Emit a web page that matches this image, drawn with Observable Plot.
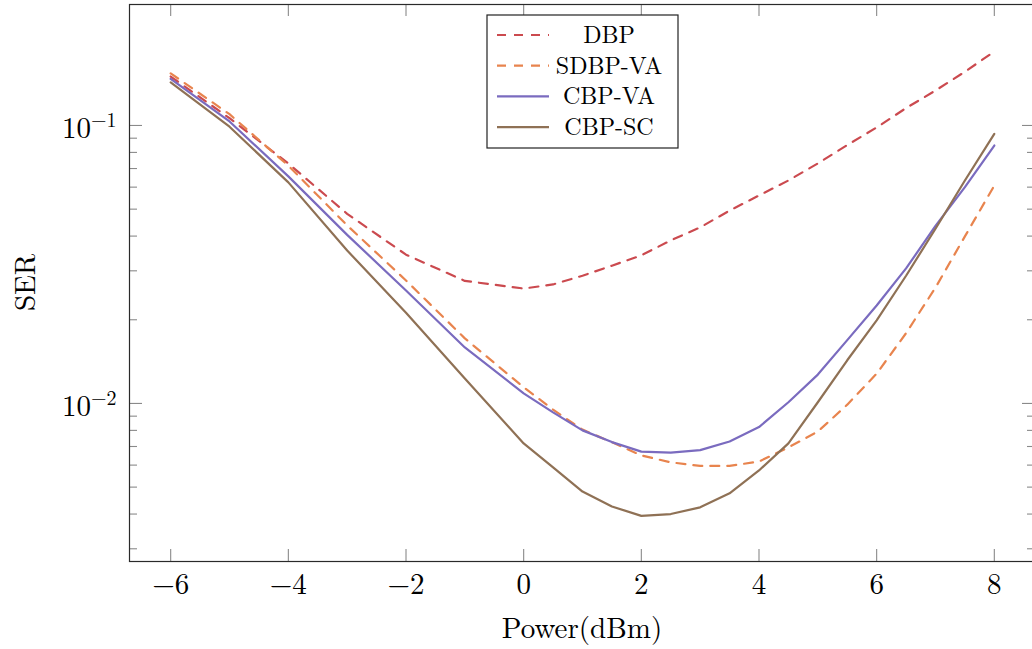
<!DOCTYPE html>
<html><head><meta charset="utf-8">
<script src="https://cdn.jsdelivr.net/npm/d3@7"></script>
<script src="https://cdn.jsdelivr.net/npm/@observablehq/plot@0.6"></script>
<style>html,body{margin:0;padding:0;background:#fff;overflow:hidden}</style>
</head><body><div id="chart"></div>
<script>
// ---- data ----
const power = [-6,-5,-4,-3,-2,-1,0,0.5,1,1.5,2,2.5,3,3.5,4,4.5,5,5.5,6,6.5,7,7.5,8];
const dbp    = [0.150,0.1062,0.073,0.0481,0.0343,0.0276,0.0259,0.0268,0.0288,0.0313,0.0341,0.0386,0.0430,0.0494,0.056,0.0634,0.073,0.085,0.0984,0.1155,0.1336,0.156,0.1846];
const sdbpVA = [0.154,0.1098,0.0717,0.0437,0.0277,0.01714,0.01143,0.0095,0.00805,0.00725,0.0065,0.00614,0.00596,0.00596,0.00618,0.00695,0.00792,0.0099,0.0128,0.0179,0.0261,0.0399,0.0608];
const cbpVA  = [0.147,0.1034,0.0656,0.0404,0.0255,0.0159,0.01087,0.00929,0.0080,0.00726,0.00671,0.00665,0.00679,0.0073,0.00822,0.0101,0.0127,0.0169,0.0225,0.0306,0.0435,0.060,0.0847];
const cbpSC  = [0.143,0.099,0.0624,0.0355,0.0212,0.0123,0.00718,0.00589,0.00482,0.00426,0.00394,0.0040,0.00423,0.00475,0.00574,0.00718,0.0101,0.0143,0.0199,0.0288,0.0425,0.0634,0.0933];
const seriesNames  = ["DBP","SDBP-VA","CBP-VA","CBP-SC"];
const seriesColors = ["#cb4a4f","#e8844e","#7a6bbf","#8f7155"];
const seriesDashed = [true,true,false,false];
const xTicks = [-6,-4,-2,0,2,4,6,8];
const yMajorTicks = [0.1,0.01];
const yMajorExp = ["−1","−2"];
const yMinorTicks = [0.003,0.004,0.005,0.006,0.007,0.008,0.009,0.02,0.03,0.04,0.05,0.06,0.07,0.08,0.09];
const xLabel = "Power(dBm)";
const yLabel = "SER";

// ---- build table ----
const values = [dbp, sdbpVA, cbpVA, cbpSC];
const rows = seriesNames.flatMap((name,i)=>power.map((p,j)=>({name, power:p, ser:values[i][j]})));

const W=1032, H=649, mL=129, mR=-3, mT=4, mB=88;
const iw = W-mL-mR, ih = H-mT-mB;
const font = "'Latin Modern Roman','Liberation Serif','Times New Roman',serif";
const tickColor = "#8a8a8a";
const fmt = d => d<0 ? "−"+(-d) : String(d);

const chart = Plot.plot({
  width:W, height:H, marginLeft:mL, marginRight:mR, marginTop:mT, marginBottom:mB,
  style:{fontFamily:font, fontSize:"29px", background:"#fff", color:"#000"},
  x:{domain:[-6.7,8.7]},
  y:{type:"log", domain:[0.0027,0.2724]},
  marks:[
    Plot.axisX(xTicks,{anchor:"bottom", tickSize:0, tickPadding:12, tickFormat:fmt, label:null, fontSize:29}),
    Plot.axisY(yMajorTicks,{anchor:"left", tickSize:0, tickPadding:13, tickFormat:()=>"10", label:null, fontSize:29, dy:3}),
    Plot.tickX(xTicks,{x:d=>d, stroke:tickColor, strokeWidth:1.1, insetTop:ih-12}),
    Plot.tickX(xTicks,{x:d=>d, stroke:tickColor, strokeWidth:1.1, insetBottom:ih-12}),
    Plot.tickY(yMajorTicks,{y:d=>d, stroke:tickColor, strokeWidth:1.1, insetRight:iw-13}),
    Plot.tickY(yMajorTicks,{y:d=>d, stroke:tickColor, strokeWidth:1.1, insetLeft:iw-13}),
    Plot.tickY(yMinorTicks,{y:d=>d, stroke:tickColor, strokeWidth:1.1, insetRight:iw-8}),
    Plot.tickY(yMinorTicks,{y:d=>d, stroke:tickColor, strokeWidth:1.1, insetLeft:iw-8}),
    ...seriesNames.map((name,i)=>Plot.line(rows.filter(r=>r.name===name),{
      x:"power", y:"ser", stroke:seriesColors[i], strokeWidth:2.2,
      strokeDasharray: seriesDashed[i] ? "9,8" : null
    })),
    Plot.frame({stroke:"#2a2a2a", strokeWidth:1.2})
  ]
});
document.getElementById("chart").appendChild(chart);

const svg = d3.select(chart);
// superscripts on y tick labels
svg.selectAll('g[aria-label="y-axis tick label"] text').each(function(d,i){
  const t = d3.select(this);
  t.append("tspan").attr("dy","-11").attr("font-size","20px").text(yMajorExp[i]);
});
// axis titles
svg.append("text").attr("x", mL+iw/2).attr("y", 638).attr("text-anchor","middle")
  .attr("font-family",font).attr("font-size","29px").text(xLabel);
svg.append("text").attr("transform",`translate(35,${mT+ih/2}) rotate(-90)`).attr("text-anchor","middle")
  .attr("font-family",font).attr("font-size","29px").text(yLabel);
// legend
const lg = svg.append("g");
lg.append("rect").attr("x",487).attr("y",15).attr("width",191).attr("height",133)
  .attr("fill","#fff").attr("stroke","#222").attr("stroke-width",1.2);
seriesNames.forEach((name,i)=>{
  const yy = 35 + i*30.7;
  lg.append("line").attr("x1",497).attr("x2",549).attr("y1",yy).attr("y2",yy)
    .attr("stroke",seriesColors[i]).attr("stroke-width",2.2)
    .attr("stroke-dasharray", seriesDashed[i] ? "9,8" : null);
  lg.append("text").attr("x",609).attr("y",yy+8).attr("text-anchor","middle")
    .attr("font-family",font).attr("font-size","24px").text(name);
});
</script>
</body></html>
